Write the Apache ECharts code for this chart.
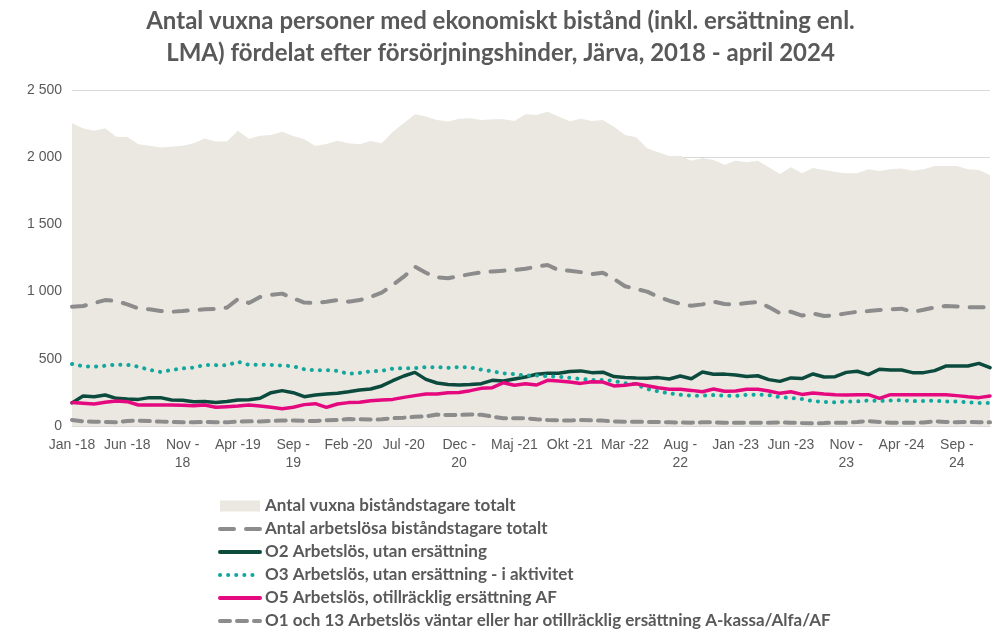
<!DOCTYPE html>
<html>
<head>
<meta charset="utf-8">
<script src="https://cdn.jsdelivr.net/npm/echarts@6/dist/echarts.min.js"></script>
<style>
  html, body { margin: 0; padding: 0; background: #fff; }
  #chart { width: 1001px; height: 632px; }
</style>
</head>
<body>
<div id="chart"></div>
<script>
// månader Jan -18 .. Dec -24
const monthNames = ['Jan', 'Feb', 'Mar', 'Apr', 'Maj', 'Jun', 'Jul', 'Aug', 'Sep', 'Okt', 'Nov', 'Dec'];
const years = ['18', '19', '20', '21', '22', '23', '24'];
const wrapMonths = ['Aug', 'Sep', 'Nov', 'Dec'];

const categories = [];
years.forEach(y => monthNames.forEach(m => categories.push(m + ' -' + y)));

const totalAdults = [
  2252, 2215, 2197, 2215, 2153, 2150, 2096, 2086, 2073, 2078, 2086, 2103,
  2140, 2116, 2116, 2197, 2138, 2160, 2165, 2190, 2158, 2133, 2083, 2098,
  2122, 2103, 2096, 2121, 2103, 2190, 2252, 2319, 2302, 2277, 2265, 2287,
  2290, 2277, 2282, 2282, 2270, 2319, 2314, 2339, 2302, 2268, 2287, 2270,
  2277, 2227, 2165, 2148, 2066, 2036, 2009, 2011, 1974, 1994, 1979, 1944,
  1974, 1962, 1974, 1925, 1875, 1925, 1880, 1920, 1905, 1890, 1880, 1880,
  1910, 1898, 1910, 1915, 1900, 1910, 1935, 1935, 1935, 1910, 1905, 1868
];

const totalUnemployed = [
  888, 893, 915, 937, 930, 905, 875, 868, 856, 850, 855, 863,
  868, 872, 880, 945, 915, 960, 975, 985, 950, 918, 915, 925,
  937, 925, 937, 960, 992, 1049, 1111, 1185, 1140, 1105, 1100, 1115,
  1130, 1143, 1150, 1156, 1160, 1170, 1185, 1198, 1160, 1155, 1145, 1130,
  1140, 1095, 1040, 1020, 1000, 962, 932, 908, 895, 905, 925, 908,
  905, 915, 922, 885, 840, 850, 822, 838, 818, 825, 838, 850,
  855, 863, 868, 873, 848, 865, 883, 893, 890, 883, 883, 883
];

const o2 = [
  172, 223, 218, 231, 206, 201, 198, 211, 211, 193, 191, 181,
  183, 174, 183, 193, 195, 206, 248, 263, 248, 218, 231, 238,
  243, 255, 268, 275, 298, 337, 372, 399, 347, 320, 308, 305,
  308, 315, 340, 335, 350, 365, 385, 392, 392, 405, 410, 397,
  400, 368, 360, 357, 355, 360, 350, 372, 352, 402, 385, 386,
  380, 368, 374, 345, 332, 358, 353, 387, 365, 367, 399, 407,
  382, 422, 417, 417, 397, 397, 412, 446, 446, 446, 466, 434
];

const o3 = [
  461, 445, 441, 448, 457, 455, 441, 418, 402, 417, 428, 435,
  454, 453, 451, 478, 455, 456, 455, 450, 445, 422, 414, 416,
  410, 388, 395, 407, 410, 427, 430, 430, 438, 438, 433, 439,
  436, 420, 407, 392, 386, 375, 376, 370, 367, 358, 350, 343,
  343, 335, 318, 310, 275, 258, 243, 232, 226, 226, 230, 226,
  223, 232, 234, 230, 215, 208, 200, 185, 180, 176, 182, 183,
  190, 186, 190, 192, 185, 186, 188, 182, 183, 176, 172, 172
];

const o5 = [
  174, 169, 164, 176, 186, 181, 156, 156, 156, 156, 154, 151,
  156, 139, 144, 149, 156, 149, 139, 129, 139, 159, 166, 139,
  164, 174, 176, 188, 193, 198, 213, 226, 238, 238, 248, 250,
  263, 280, 285, 322, 303, 315, 305, 340, 335, 327, 317, 330,
  327, 298, 304, 315, 300, 285, 273, 273, 265, 255, 275, 258,
  260, 273, 273, 260, 243, 255, 235, 246, 238, 233, 231, 233,
  233, 206, 233, 233, 233, 233, 233, 233, 226, 218, 211, 223
];

const o1o13 = [
  45, 35, 32, 30, 28, 38, 40, 37, 33, 30, 27, 27,
  30, 28, 27, 33, 35, 33, 38, 40, 40, 38, 37, 43,
  45, 52, 50, 48, 50, 58, 62, 68, 72, 85, 82, 82,
  86, 84, 70, 58, 57, 57, 50, 45, 42, 40, 45, 42,
  40, 33, 32, 32, 30, 30, 28, 26, 25, 27, 27, 25,
  25, 25, 25, 25, 26, 25, 22, 20, 22, 25, 25, 30,
  37, 30, 25, 25, 25, 26, 35, 30, 28, 30, 28, 27
];

const seriesNames = [
  'Antal vuxna biståndstagare totalt',
  'Antal arbetslösa biståndstagare totalt',
  'O2 Arbetslös, utan ersättning',
  'O3 Arbetslös, utan ersättning - i aktivitet',
  'O5 Arbetslös, otillräcklig ersättning AF',
  'O1 och 13 Arbetslös väntar eller har otillräcklig ersättning A-kassa/Alfa/AF'
];

const textGray = '#595959';
const dashGray = '#8c8c8c';
const areaColor = '#ebe8e1';

const chart = echarts.init(document.getElementById('chart'));

function lineSeries(name, data, color, width, type) {
  return {
    name: name,
    type: 'line',
    data: data,
    symbol: 'none',
    color: color,
    lineStyle: { color: color, width: width, type: type, cap: 'round' }
  };
}

chart.setOption({
  animation: false,
  title: {
    text: 'Antal vuxna personer med ekonomiskt bistånd (inkl. ersättning enl.\nLMA) fördelat efter försörjningshinder, Järva, 2018 - april 2024',
    left: 'center',
    top: 0,
    textStyle: {
      fontFamily: 'Lato',
      fontWeight: 'bold',
      fontSize: 24,
      lineHeight: 32,
      color: textGray
    }
  },
  grid: { left: 72, right: 11, top: 90, bottom: 206, containLabel: false },
  legend: {
    orient: 'vertical',
    left: 218,
    top: 497,
    padding: 0,
    itemGap: 5,
    itemWidth: 40,
    itemHeight: 11,
    itemStyle: { opacity: 0 },
    lineStyle: { width: 4 },
    textStyle: { fontFamily: 'Lato', fontWeight: 'bold', fontSize: 17, lineHeight: 18, color: textGray },
    data: [
      { name: seriesNames[0], icon: 'rect', itemStyle: { color: areaColor, opacity: 1 } },
      seriesNames[1], seriesNames[2], seriesNames[3], seriesNames[4], seriesNames[5]
    ]
  },
  xAxis: {
    type: 'category',
    data: categories,
    boundaryGap: false,
    axisLine: { lineStyle: { color: '#d9d9d9', width: 1 } },
    axisTick: { show: false },
    axisLabel: {
      interval: 4,
      margin: 10,
      fontFamily: 'Liberation Sans',
      fontSize: 14,
      lineHeight: 18,
      color: textGray,
      formatter: v => wrapMonths.indexOf(v.slice(0, 3)) >= 0 ? v.replace(' -', ' -\n') : v
    }
  },
  yAxis: {
    type: 'value',
    min: 0,
    max: 2500,
    interval: 500,
    axisLine: { show: false },
    axisTick: { show: false },
    splitLine: { lineStyle: { color: '#d9d9d9', width: 1 } },
    axisLabel: {
      margin: 10,
      fontFamily: 'Liberation Sans',
      fontSize: 14,
      color: textGray,
      formatter: v => String(v).replace(/\B(?=(\d{3})+$)/g, ' ')
    }
  },
  series: [
    {
      name: seriesNames[0],
      type: 'line',
      data: totalAdults,
      symbol: 'none',
      color: areaColor,
      lineStyle: { width: 0 },
      areaStyle: { color: areaColor, opacity: 1 }
    },
    lineSeries(seriesNames[1], totalUnemployed, dashGray, 4, [14, 12]),
    lineSeries(seriesNames[2], o2, '#0b4a3d', 3.5, 'solid'),
    lineSeries(seriesNames[3], o3, '#12a79d', 4, [0.1, 8]),
    lineSeries(seriesNames[4], o5, '#e5097f', 3.5, 'solid'),
    lineSeries(seriesNames[5], o1o13, dashGray, 4, [10, 7])
  ]
});
</script>
</body>
</html>
